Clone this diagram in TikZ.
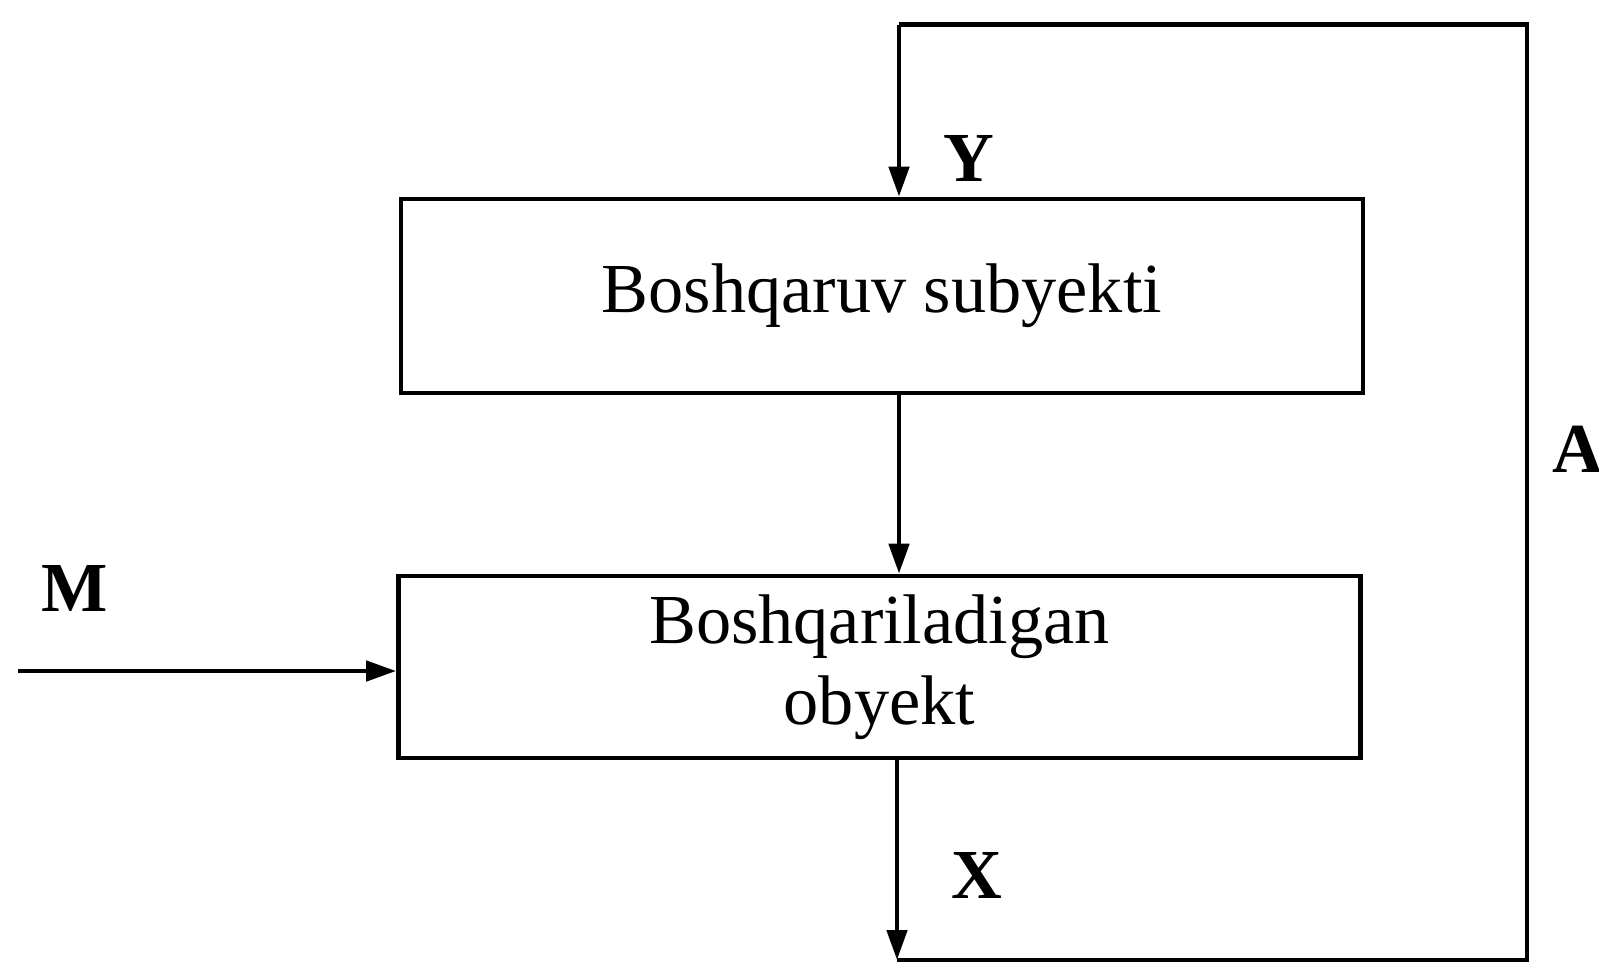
\documentclass[tikz,border=0pt]{standalone}
\usepackage{fontspec}
\setmainfont{Liberation Serif}
\usetikzlibrary{arrows.meta}

\begin{document}
\begin{tikzpicture}[line width=1.35pt, >={Triangle[length=3mm,width=2mm]},
	block/.style={draw, rectangle, minimum width=9.62cm, inner sep=0pt, align=center, font=\fontsize{20}{23}\selectfont},
	lbl/.style={font=\fontsize{20}{23}\selectfont\bfseries}]
		\useasboundingbox (0,0) rectangle (15.99,-9.63);
		\node[block, minimum height=1.94cm] (subyekt) at (8.82,-2.96) {\raisebox{-1.2mm}{Boshqaruv subyekti}};
		\node[block, minimum height=1.82cm] (obyekt) at (8.795,-6.67) {Boshqariladigan\\obyekt};
		\coordinate (tl) at (8.99,-0.245);
		\coordinate (tr) at (15.27,-0.245);
		\coordinate (br) at (15.27,-9.60);
		\coordinate (bl) at (8.97,-9.60);
		\coordinate (min) at (0.18,-6.71);
		\node[lbl] (Y) at (9.69,-1.58) {Y};
		\node[lbl] (X) at (9.77,-8.75) {X};
		\node[lbl] (M) at (0.75,-5.88) {M};
		\node[lbl] (A) at (15.78,-4.49) {A};
		\draw[->] (tl) -- (tl |- subyekt.north);
		\draw[->] (subyekt.south -| tl) -- (obyekt.north -| tl);
		\draw[->] (min) -- (min -| obyekt.west);
		\draw[->] (obyekt.south -| bl) -- (bl);
		\draw (bl) -- (br) -- (tr) -- (tl);
\end{tikzpicture}
\end{document}
